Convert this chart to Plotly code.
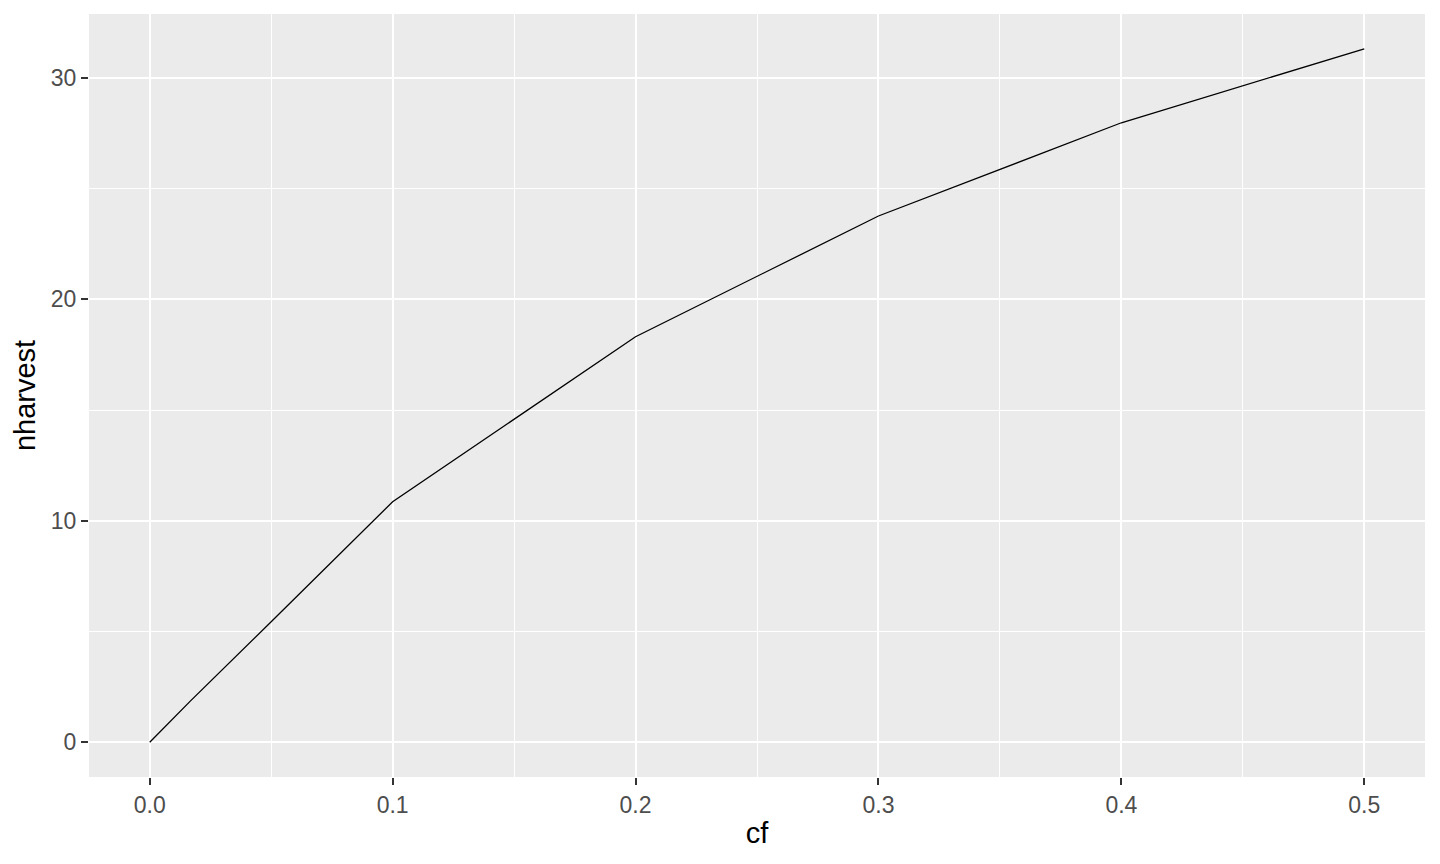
import plotly.graph_objects as go

# values
cf = [0.0, 0.0168, 0.05, 0.0833, 0.1, 0.2, 0.25, 0.3, 0.4, 0.5]
nharvest = [0.0, 1.87, 5.44, 9.07, 10.86, 18.31, 21.04, 23.76, 27.97, 31.31]

x_ticks = [0.0, 0.1, 0.2, 0.3, 0.4, 0.5]
x_labels = ["0.0", "0.1", "0.2", "0.3", "0.4", "0.5"]
y_ticks = [0, 10, 20, 30]

fig = go.Figure()

fig.add_trace(go.Scatter(
    x=cf,
    y=nharvest,
    mode="lines",
    line=dict(color="black", width=1.3),
    showlegend=False
))

# page body has an 8px margin, so the figure is sized to fit the window
fig.update_layout(
    width=1424,
    height=848,
    paper_bgcolor="white",
    plot_bgcolor="#EBEBEB",
    margin=dict(l=81, r=7, t=6, b=79),
    font=dict(family="Liberation Sans, Arial, sans-serif"),
    showlegend=False
)

fig.update_xaxes(
    range=[-0.025, 0.525],
    tickvals=x_ticks,
    ticktext=x_labels,
    ticks="outside",
    ticklen=7,
    tickwidth=1.5,
    tickcolor="#333333",
    tickfont=dict(size=23, color="#4D4D4D"),
    showgrid=True,
    gridcolor="white",
    gridwidth=1.6,
    minor=dict(dtick=0.05, tick0=0, showgrid=True, gridcolor="white", gridwidth=0.7),
    zeroline=False,
    showline=False,
    title=dict(text="cf", font=dict(size=29, color="black"), standoff=6)
)

fig.update_yaxes(
    range=[-1.566, 32.88],
    tickvals=y_ticks,
    ticks="outside",
    ticklen=7,
    tickwidth=1.5,
    tickcolor="#333333",
    tickfont=dict(size=23, color="#4D4D4D"),
    showgrid=True,
    gridcolor="white",
    gridwidth=1.6,
    minor=dict(dtick=5, tick0=0, showgrid=True, gridcolor="white", gridwidth=0.7),
    zeroline=False,
    showline=False,
    title=dict(text="nharvest", font=dict(size=29, color="black"), standoff=6)
)

fig.write_html("out.html")
